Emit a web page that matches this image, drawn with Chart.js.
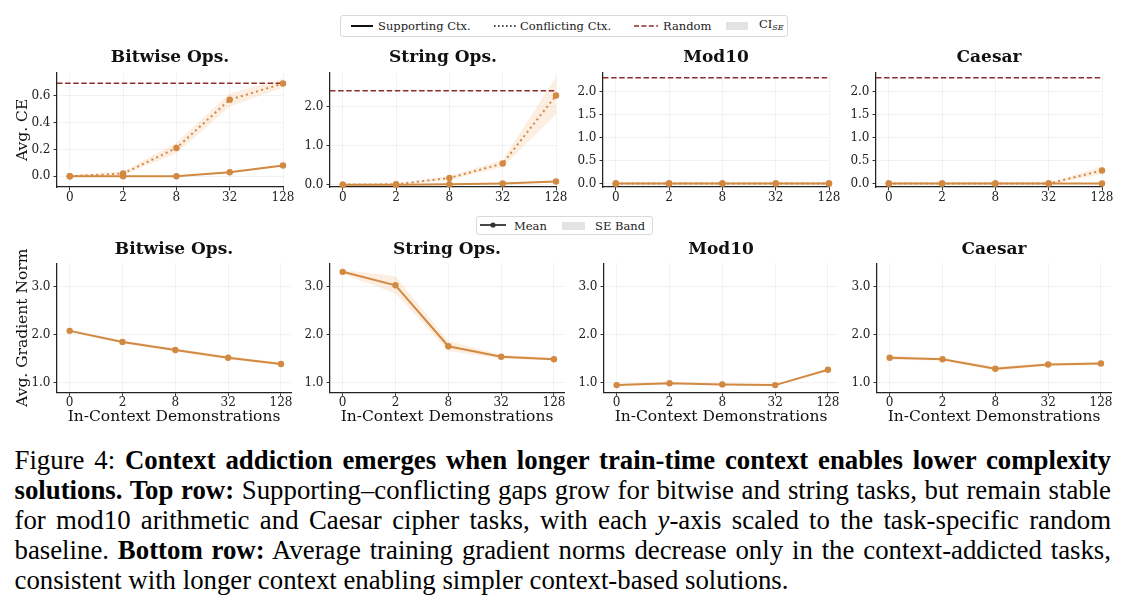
<!DOCTYPE html>
<html>
<head>
<meta charset="utf-8">
<script src="https://cdn.jsdelivr.net/npm/chart.js@4.4.1/dist/chart.umd.min.js"></script>
<style>
html,body{margin:0;padding:0;background:#fff;}
body{width:1132px;height:604px;position:relative;overflow:hidden;font-family:"DejaVu Serif","Liberation Serif",serif;}
canvas.cv{position:absolute;}
.lgbox{position:absolute;border:1px solid #d9d9d9;border-radius:3px;background:#fff;box-sizing:border-box;}
.lgt{position:absolute;font-family:"DejaVu Serif","Liberation Serif",serif;font-size:11.5px;color:#222;line-height:14px;white-space:nowrap;transform:translateY(-50%);}
.lgt sub{font-size:8px;font-style:italic;vertical-align:-2px;}
.lgs{position:absolute;}
.cap{position:absolute;left:14.5px;font-family:"Liberation Serif","Times New Roman",serif;font-size:26.8px;color:#000;}
.cl{position:absolute;left:0;white-space:nowrap;line-height:30px;display:inline-block;}
</style>
</head>
<body>

<!-- legend 1 -->
<div class="lgbox" style="left:340px;top:15px;width:448px;height:22px;"></div>
<svg class="lgs" style="left:350px;top:20px" width="24" height="12"><line x1="1" y1="6" x2="23" y2="6" stroke="#111" stroke-width="2"/></svg>
<div class="lgt" style="left:378px;top:26px;">Supporting Ctx.</div>
<svg class="lgs" style="left:493px;top:20px" width="24" height="12"><line x1="1" y1="6" x2="23" y2="6" stroke="#111" stroke-width="1.6" stroke-dasharray="1.6 2.4"/></svg>
<div class="lgt" style="left:520px;top:26px;">Conflicting Ctx.</div>
<svg class="lgs" style="left:633px;top:20px" width="26" height="12"><line x1="1" y1="6" x2="25" y2="6" stroke="#8b2e2e" stroke-width="1.6" stroke-dasharray="5 2.4"/></svg>
<div class="lgt" style="left:663px;top:26px;">Random</div>
<div class="lgs" style="left:726px;top:22px;width:22px;height:8px;background:#e3e3e6;"></div>
<div class="lgt" style="left:759px;top:26px;">CI<sub>SE</sub></div>

<!-- legend 2 -->
<div class="lgbox" style="left:476px;top:216px;width:177px;height:19px;"></div>
<svg class="lgs" style="left:479px;top:219px" width="28" height="12"><line x1="1" y1="6" x2="27" y2="6" stroke="#333" stroke-width="1.8"/><circle cx="14" cy="6" r="2.6" fill="#333"/></svg>
<div class="lgt" style="left:514px;top:225.5px;">Mean</div>
<div class="lgs" style="left:562px;top:221.5px;width:23px;height:8px;background:#e3e3e6;"></div>
<div class="lgt" style="left:595px;top:225.5px;">SE Band</div>

<canvas class="cv" id="t0"></canvas>
<canvas class="cv" id="t1"></canvas>
<canvas class="cv" id="t2"></canvas>
<canvas class="cv" id="t3"></canvas>
<canvas class="cv" id="b0"></canvas>
<canvas class="cv" id="b1"></canvas>
<canvas class="cv" id="b2"></canvas>
<canvas class="cv" id="b3"></canvas>

<div class="cap">
  <div class="cl j" style="top:445px;">Figure 4: <b>Context addiction emerges when longer train-time context enables lower complexity</b></div>
  <div class="cl j" style="top:475px;"><b>solutions. Top row:</b> Supporting–conflicting gaps grow for bitwise and string tasks, but remain stable</div>
  <div class="cl j" style="top:505px;">for mod10 arithmetic and Caesar cipher tasks, with each <i>y</i>-axis scaled to the task-specific random</div>
  <div class="cl j" style="top:535px;">baseline. <b>Bottom row:</b> Average training gradient norms decrease only in the context-addicted tasks,</div>
  <div class="cl" style="top:565px;">consistent with longer context enabling simpler context-based solutions.</div>
</div>

<script>
// ---------------- DATA ----------------
const demoLabels = ['0', '2', '8', '32', '128'];
const taskTitles = ['Bitwise Ops.', 'String Ops.', 'Mod10', 'Caesar'];

// Top row: Avg. CE (supporting / conflicting context) with SE bands
const bitwiseSupport    = [0.00, 0.00, 0.00, 0.03, 0.08];
const bitwiseSupportLo  = [0.00, 0.00, 0.00, 0.025, 0.072];
const bitwiseSupportHi  = [0.005, 0.005, 0.005, 0.036, 0.088];
const bitwiseConflict   = [0.00, 0.02, 0.21, 0.57, 0.69];
const bitwiseConflictLo = [0.00, 0.01, 0.17, 0.52, 0.66];
const bitwiseConflictHi = [0.01, 0.035, 0.25, 0.615, 0.725];
const bitwiseRandom = 0.693;

const stringSupport    = [0.00, 0.00, 0.01, 0.03, 0.08];
const stringSupportLo  = [0.00, 0.00, 0.00, 0.02, 0.06];
const stringSupportHi  = [0.01, 0.01, 0.02, 0.04, 0.10];
const stringConflict   = [0.00, 0.01, 0.17, 0.54, 2.28];
const stringConflictLo = [0.00, 0.00, 0.12, 0.45, 1.80];
const stringConflictHi = [0.01, 0.02, 0.22, 0.63, 2.75];
const stringRandom = 2.398;

const mod10Support    = [0.00, 0.00, 0.00, 0.00, 0.00];
const mod10SupportLo  = [-0.02, -0.02, -0.02, -0.02, -0.02];
const mod10SupportHi  = [0.02, 0.02, 0.02, 0.02, 0.02];
const mod10Conflict   = [0.00, 0.00, 0.00, 0.00, 0.00];
const mod10ConflictLo = [-0.02, -0.02, -0.02, -0.02, -0.02];
const mod10ConflictHi = [0.02, 0.02, 0.02, 0.02, 0.02];
const mod10Random = 2.303;

const caesarSupport    = [0.00, 0.00, 0.00, 0.00, 0.00];
const caesarSupportLo  = [-0.02, -0.02, -0.02, -0.02, -0.02];
const caesarSupportHi  = [0.02, 0.02, 0.02, 0.02, 0.02];
const caesarConflict   = [0.00, 0.00, 0.00, 0.00, 0.285];
const caesarConflictLo = [-0.02, -0.02, -0.02, -0.02, 0.20];
const caesarConflictHi = [0.02, 0.02, 0.02, 0.02, 0.37];
const caesarRandom = 2.303;

// Bottom row: Avg. gradient norm with SE bands
const gradBitwise   = [2.08, 1.85, 1.68, 1.52, 1.39];
const gradBitwiseLo = [2.05, 1.82, 1.65, 1.49, 1.36];
const gradBitwiseHi = [2.11, 1.88, 1.72, 1.55, 1.42];
const gradString    = [3.31, 3.03, 1.76, 1.54, 1.49];
const gradStringLo  = [3.27, 2.86, 1.66, 1.50, 1.46];
const gradStringHi  = [3.35, 3.22, 1.87, 1.58, 1.52];
const gradMod10     = [0.95, 0.99, 0.965, 0.95, 1.27];
const gradMod10Lo   = [0.93, 0.97, 0.945, 0.93, 1.25];
const gradMod10Hi   = [0.97, 1.01, 0.985, 0.97, 1.29];
const gradCaesar    = [1.52, 1.49, 1.29, 1.38, 1.40];
const gradCaesarLo  = [1.48, 1.46, 1.25, 1.35, 1.37];
const gradCaesarHi  = [1.56, 1.52, 1.33, 1.41, 1.43];

// Axis ranges and tick values
const ceRangeBitwise = [-0.08, 0.77];
const ceRangeString  = [-0.06, 2.86];
const ceRangeMod10   = [-0.075, 2.41];
const ceRangeCaesar  = [-0.075, 2.41];
const ceTicksBitwise = [0.0, 0.2, 0.4, 0.6];
const ceTicksString  = [0.0, 1.0, 2.0];
const ceTicksMod10   = [0.0, 0.5, 1.0, 1.5, 2.0];
const ceTicksCaesar  = [0.0, 0.5, 1.0, 1.5, 2.0];
const gradRange = [0.80, 3.49];
const gradTicks = [1.0, 2.0, 3.0];
const topXRange = [-0.24, 4.0];
const botXRange = [-0.24, 4.19];

// ---------------- STYLE ----------------
const FONT = '"DejaVu Serif", "Liberation Serif", serif';
Chart.defaults.font.family = FONT;
const ORANGE = 'rgb(210,137,66)';
const BAND = 'rgba(240,170,105,0.2)';
const RED = '#8b2e2e';
const GRID = 'rgba(0,0,0,0.05)';
const AXIS_TITLE_SIZE = 15.5;
const AXIS_TITLE_LH = AXIS_TITLE_SIZE * 1.2;

// Layout (pixels)
const topAxisX = [56.7, 330, 602.7, 876];
const botAxisX = [56.7, 330, 603.5, 877];
const Wy = 50;
const TOP = {plotTop: 72.3, plotH: 113.4, plotW: 226, hx: 22, titlePadB: 5.4, padR: 16};
const BOT = {plotTop: 263.3, plotH: 129, plotW: 234, hx: 24.4 + AXIS_TITLE_LH / 2, titlePadB: 3.8, padR: 12};
const TITLE_LH = 17 * 1.2;
const Y_TITLE_PAD = 16 - AXIS_TITLE_LH / 2;

function build(id, axisX, geo, p) {
  const cv = document.getElementById(id);
  const left = axisX - Wy;
  const top = geo.plotTop - TITLE_LH - geo.titlePadB;
  const w = Wy + geo.plotW + geo.padR;
  const h = TITLE_LH + geo.titlePadB + geo.plotH + geo.hx;
  const W = Math.ceil(w), H = Math.ceil(h);
  cv.width = W; cv.height = H;
  cv.style.left = left + 'px'; cv.style.top = top + 'px';
  cv.style.width = W + 'px'; cv.style.height = H + 'px';

  const xs = demoLabels.map((_, i) => i);
  const pts = arr => arr.map((v, i) => ({x: xs[i], y: v}));
  const ds = [];
  p.lines.forEach(l => ds.push({
    data: pts(l.values), borderColor: ORANGE, backgroundColor: ORANGE, borderWidth: 2,
    borderDash: l.dash || [], pointRadius: 3.2, pointBackgroundColor: ORANGE, pointBorderWidth: 0,
    fill: false, order: 1, clip: false, tension: 0
  }));
  if (p.random !== undefined) ds.push({
    data: [{x: p.xRange[0], y: p.random}, {x: p.xRange[1], y: p.random}],
    borderColor: RED, borderWidth: 1.5, borderDash: [5.5, 2.6], pointRadius: 0, fill: false, order: 2
  });
  p.bands.forEach(b => {
    ds.push({data: pts(b.hi), borderWidth: 0, borderColor: 'rgba(0,0,0,0)', pointRadius: 0, fill: false, order: 5});
    ds.push({data: pts(b.lo), borderWidth: 0, borderColor: 'rgba(0,0,0,0)', pointRadius: 0, fill: '-1', backgroundColor: BAND, order: 5});
  });

  const plotRight = Wy + geo.plotW;
  new Chart(cv, {
    type: 'line',
    data: {datasets: ds},
    options: {
      responsive: false, animation: false,
      layout: {padding: {left: 0, top: 0, bottom: 0, right: W - plotRight}},
      plugins: {
        legend: {display: false}, tooltip: {enabled: false},
        title: {display: true, text: p.title, fullSize: false, color: '#111',
          font: {family: FONT, size: 17, weight: 'bold', lineHeight: 1.2},
          padding: {top: 0, bottom: geo.titlePadB}}
      },
      scales: {
        x: {
          type: 'linear', min: p.xRange[0], max: p.xRange[1],
          afterBuildTicks: s => { s.ticks = xs.map(v => ({value: v})); },
          afterFit: s => { s.height = geo.hx; },
          ticks: {callback: v => demoLabels[v], font: {family: FONT, size: 12}, color: '#222', padding: 0, maxRotation: 0, autoSkip: false},
          grid: {color: GRID, lineWidth: 1, tickLength: 3.5, tickColor: '#333', tickWidth: 1},
          border: {display: true, color: '#222', width: 1.25},
          title: {display: !!p.xTitle, text: p.xTitle || '', color: '#111',
            font: {family: FONT, size: AXIS_TITLE_SIZE, lineHeight: 1.2}, padding: {top: 0, bottom: 0}}
        },
        y: {
          type: 'linear', min: p.yRange[0], max: p.yRange[1],
          afterBuildTicks: s => { s.ticks = p.yTicks.map(v => ({value: v})); },
          afterFit: s => { s.width = Wy; },
          ticks: {callback: v => Number(v).toFixed(1), font: {family: FONT, size: 12}, color: '#222', padding: 3},
          grid: {color: GRID, lineWidth: 1, tickLength: 3.5, tickColor: '#333', tickWidth: 1},
          border: {display: true, color: '#222', width: 1.25},
          title: {display: !!p.yTitle, text: p.yTitle || '', color: '#111',
            font: {family: FONT, size: AXIS_TITLE_SIZE, lineHeight: 1.2}, padding: {top: Y_TITLE_PAD, bottom: 0}}
        }
      }
    }
  });
}

const dotted = [2, 3.3];
const topPanels = [
  {sup: bitwiseSupport, supLo: bitwiseSupportLo, supHi: bitwiseSupportHi, con: bitwiseConflict, conLo: bitwiseConflictLo, conHi: bitwiseConflictHi, rnd: bitwiseRandom, yr: ceRangeBitwise, yt: ceTicksBitwise},
  {sup: stringSupport, supLo: stringSupportLo, supHi: stringSupportHi, con: stringConflict, conLo: stringConflictLo, conHi: stringConflictHi, rnd: stringRandom, yr: ceRangeString, yt: ceTicksString},
  {sup: mod10Support, supLo: mod10SupportLo, supHi: mod10SupportHi, con: mod10Conflict, conLo: mod10ConflictLo, conHi: mod10ConflictHi, rnd: mod10Random, yr: ceRangeMod10, yt: ceTicksMod10},
  {sup: caesarSupport, supLo: caesarSupportLo, supHi: caesarSupportHi, con: caesarConflict, conLo: caesarConflictLo, conHi: caesarConflictHi, rnd: caesarRandom, yr: ceRangeCaesar, yt: ceTicksCaesar}
];
topPanels.forEach((t, i) => build('t' + i, topAxisX[i], TOP, {
  title: taskTitles[i], xRange: topXRange, yRange: t.yr, yTicks: t.yt, random: t.rnd,
  yTitle: i === 0 ? 'Avg. CE' : null,
  lines: [{values: t.sup}, {values: t.con, dash: dotted}],
  bands: [{lo: t.supLo, hi: t.supHi}, {lo: t.conLo, hi: t.conHi}]
}));

const botPanels = [
  {m: gradBitwise, lo: gradBitwiseLo, hi: gradBitwiseHi},
  {m: gradString, lo: gradStringLo, hi: gradStringHi},
  {m: gradMod10, lo: gradMod10Lo, hi: gradMod10Hi},
  {m: gradCaesar, lo: gradCaesarLo, hi: gradCaesarHi}
];
botPanels.forEach((b, i) => build('b' + i, botAxisX[i], BOT, {
  title: taskTitles[i], xRange: botXRange, yRange: gradRange, yTicks: gradTicks,
  yTitle: i === 0 ? 'Avg. Gradient Norm' : null,
  xTitle: 'In-Context Demonstrations',
  lines: [{values: b.m}],
  bands: [{lo: b.lo, hi: b.hi}]
}));

// justify caption lines
const CAP_W = 1096.5;
document.querySelectorAll('.cl.j').forEach(el => {
  const w = el.getBoundingClientRect().width;
  const n = (el.textContent.match(/ /g) || []).length;
  if (n > 0) el.style.wordSpacing = ((CAP_W - w) / n) + 'px';
});
</script>
</body>
</html>
